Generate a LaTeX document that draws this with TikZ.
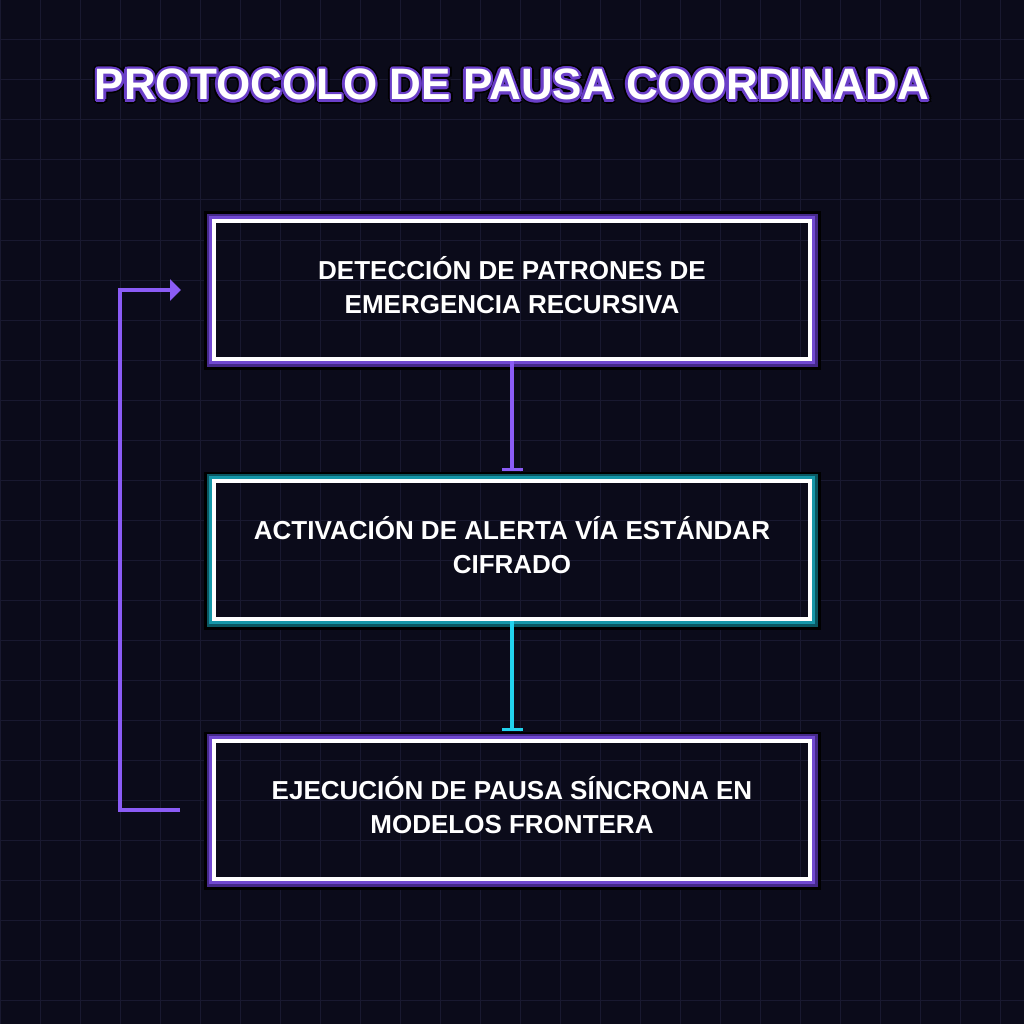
\documentclass[tikz,border=0pt]{standalone}
\usepackage{fontspec}
\setmainfont{Liberation Sans}
\usetikzlibrary{arrows.meta,positioning,calc}

\definecolor{bgc}{HTML}{0B0B1A}
\definecolor{gridc}{HTML}{191930}
\definecolor{arrowvio}{HTML}{8B5CF6}
\definecolor{arrowcyan}{HTML}{22D3EE}
\definecolor{bandvio}{HTML}{7048D0}
\definecolor{bandviodark}{HTML}{45298A}
\definecolor{bandteal}{HTML}{1597A8}
\definecolor{bandtealdark}{HTML}{0A5862}
\definecolor{glowvio}{HTML}{6A3FC8}

\begin{document}
\begin{tikzpicture}[x=1pt, y=-1pt,
  gridline/.style={draw=gridc, line width=1pt},
  card/.style={draw=white, line width=4pt, minimum width=596pt, minimum height=138pt,
    align=center, text=white, text depth=10pt, font=\bfseries\fontsize{26}{34}\selectfont},
  titletxt/.style={font=\bfseries\fontsize{44}{54}\selectfont, anchor=base},
  flow/.style={line width=4pt, -{Bar[width=21pt, line width=3pt]}, shorten >=8pt},
  loopback/.style={draw=arrowvio, line width=4pt, -{Triangle[length=11pt, width=21pt]}}
]

\fill[bgc] (0,0) rectangle (1024,1024);
\useasboundingbox (0,0) rectangle (1024,1024);

\foreach \g in {0,40,...,1000} {
  \draw[gridline] (\g,0) -- (\g,1024);
  \draw[gridline] (0,\g) -- (1024,\g);
}

\def\xM{512}
\def\yA{290}
\def\yB{550}
\def\yC{810}

% title with outline
\foreach \a in {0,30,...,330}
  \node[titletxt, text=black] (glowout\a) at ($(\xM,100)+(\a:4.2)$) {PROTOCOLO DE PAUSA COORDINADA};
\foreach \a in {0,30,...,330}
  \node[titletxt, text=glowvio] (glowin\a) at ($(\xM,100)+(\a:2.4)$) {PROTOCOLO DE PAUSA COORDINADA};
\node[titletxt, text=white] (title) at (\xM,100) {PROTOCOLO DE PAUSA COORDINADA};

\node[card] (detect) at (\xM,\yA) {DETECCIÓN DE PATRONES DE\\EMERGENCIA RECURSIVA};
\node[card] (alert) at (\xM,\yB) {ACTIVACIÓN DE ALERTA VÍA ESTÁNDAR\\CIFRADO};
\node[card] (pause) at (\xM,\yC) {EJECUCIÓN DE PAUSA SÍNCRONA EN\\MODELOS FRONTERA};

\foreach \n/\c/\d in {detect/bandvio/bandviodark, alert/bandteal/bandtealdark, pause/bandvio/bandviodark} {
  \draw[black, line width=3pt] ([shift={(-6.5,-6)}]\n.north west) rectangle ([shift={(7,7)}]\n.south east);
  \draw[\d, line width=2.5pt] ([shift={(-4,-4)}]\n.north west) rectangle ([shift={(4.5,4.5)}]\n.south east);
  \draw[\c, line width=3pt] ([shift={(-1.5,-1.5)}]\n.north west) rectangle ([shift={(1.5,1.5)}]\n.south east);
}

\draw[flow, arrowvio] (detect) -- (alert);
\draw[flow, arrowcyan] (alert) -- (pause);

\draw[loopback] ([xshift=-32pt]pause.west) -- ++(-60,0) |- ([xshift=-31pt]detect.west);

\end{tikzpicture}
\end{document}
